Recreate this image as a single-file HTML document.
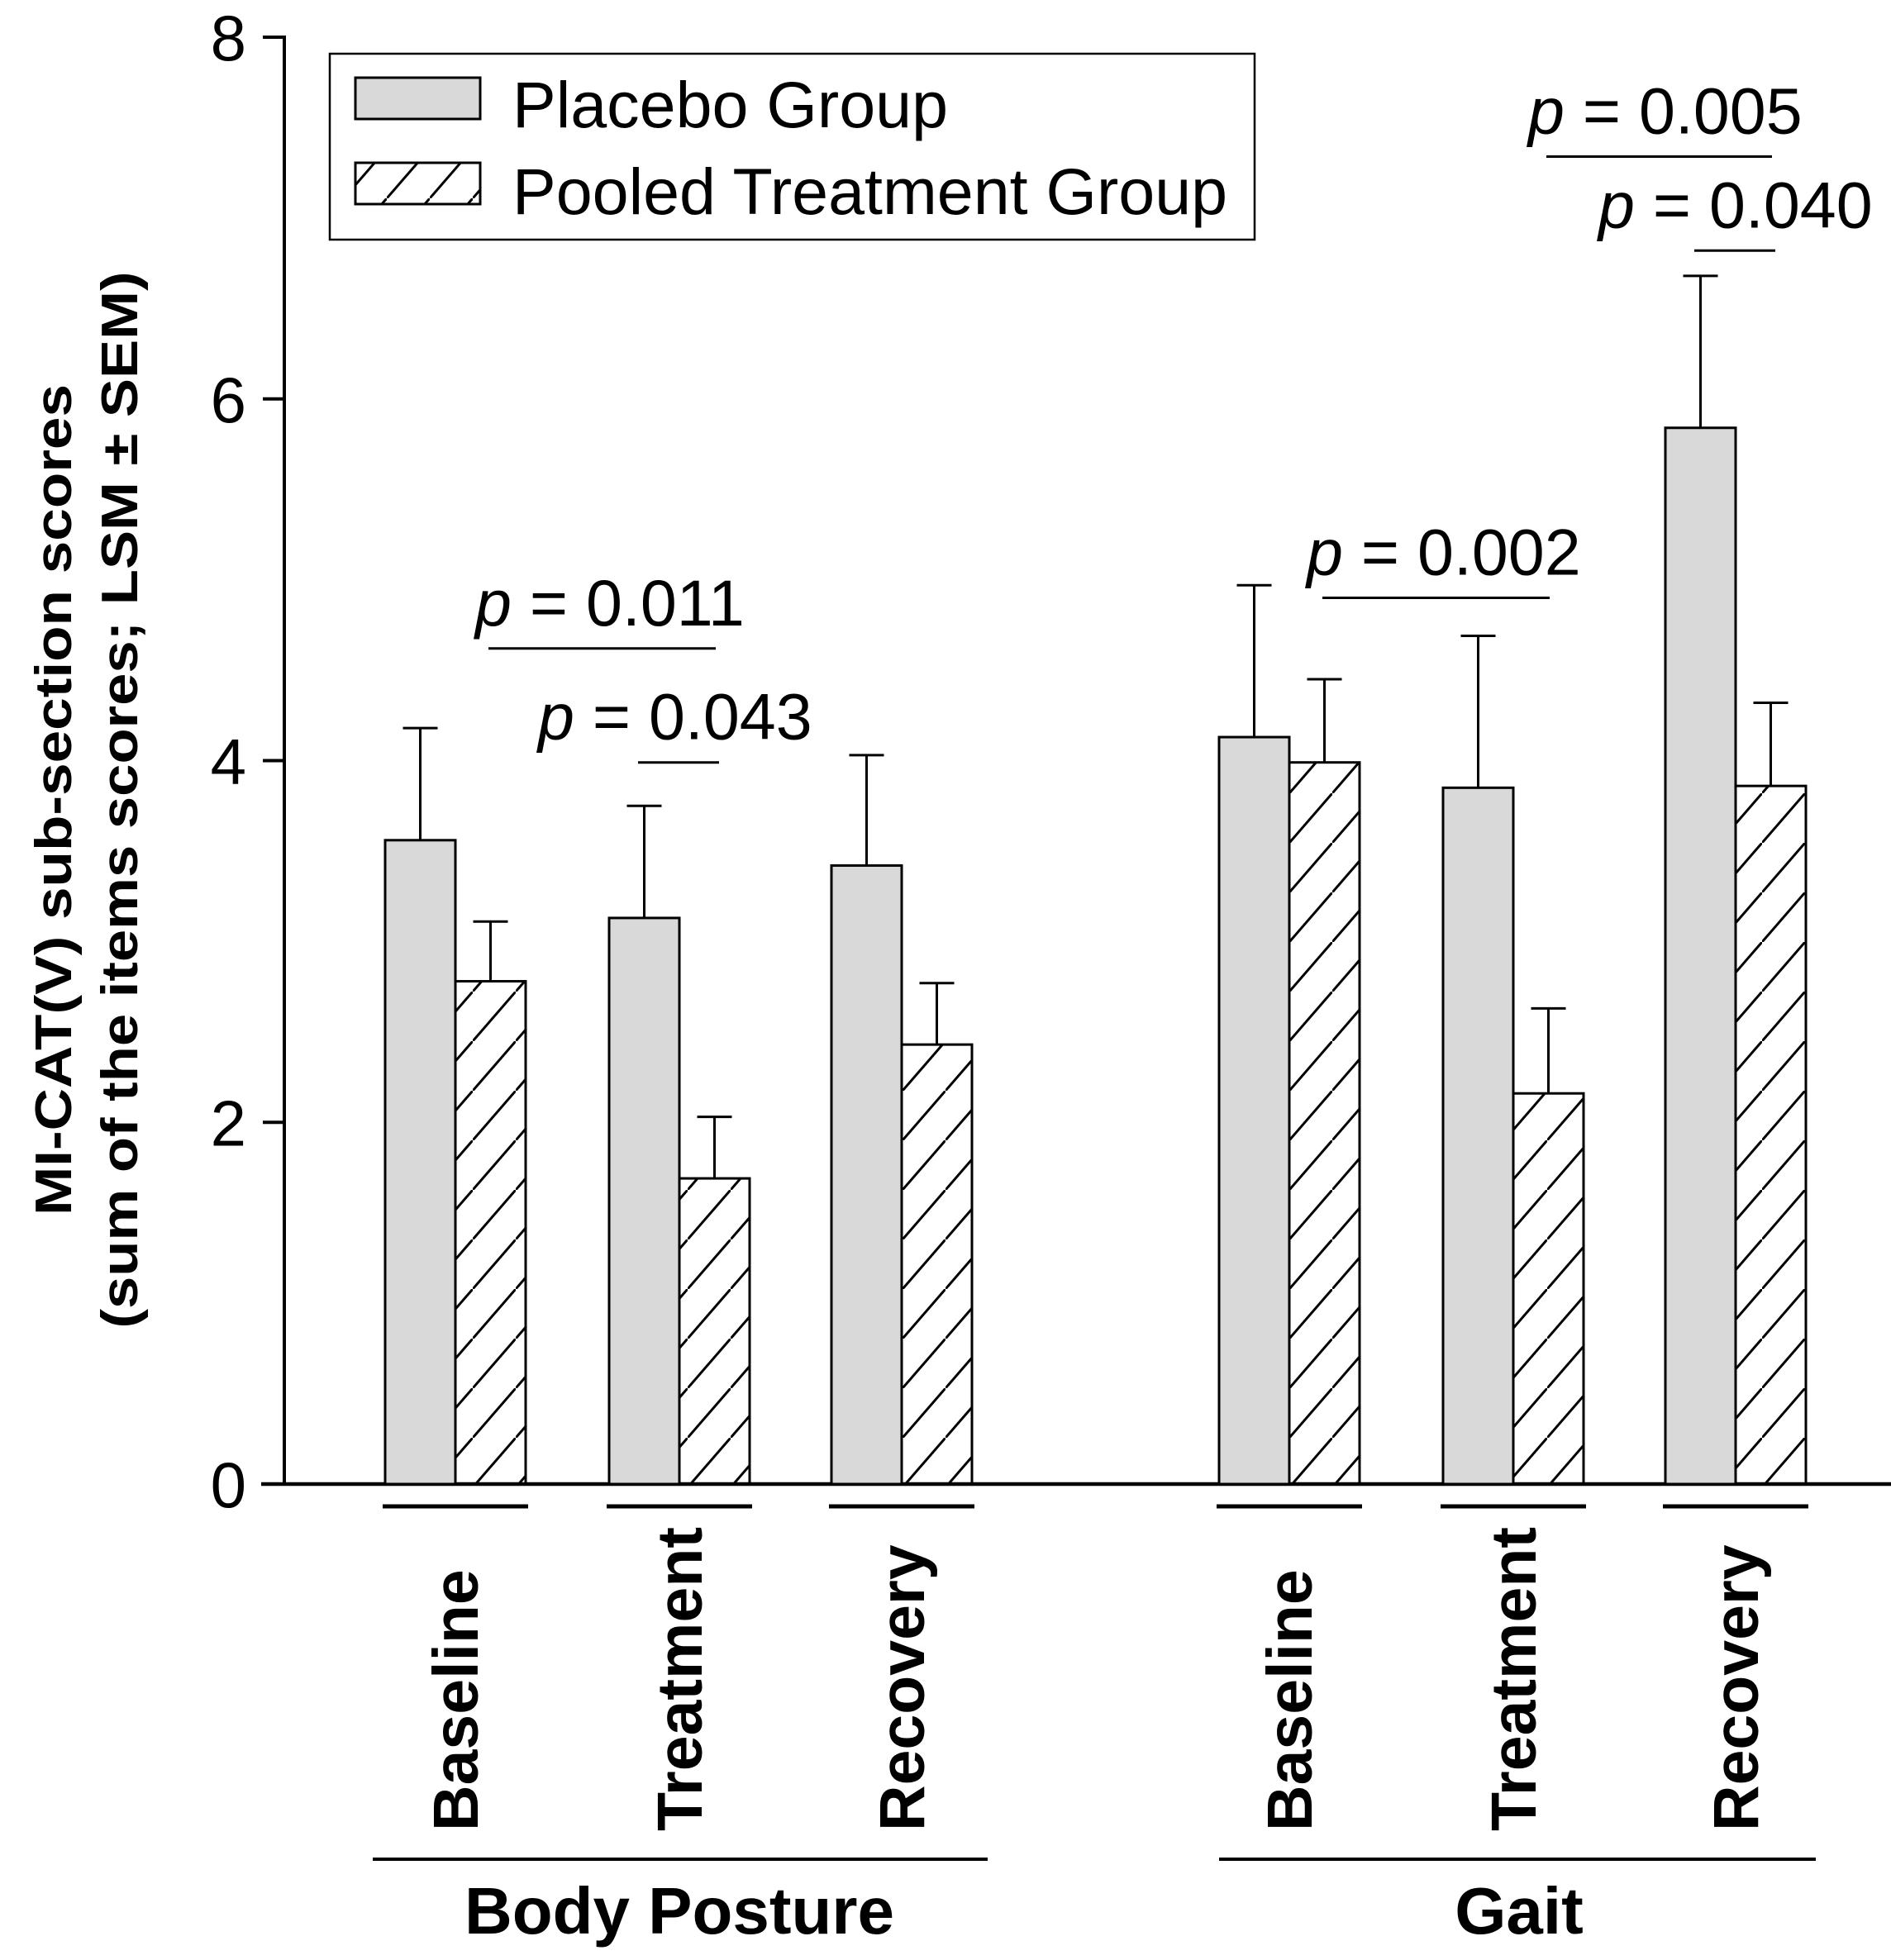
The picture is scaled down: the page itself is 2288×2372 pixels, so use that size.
<!DOCTYPE html>
<html><head><meta charset="utf-8"><style>html,body{margin:0;padding:0;background:#fff}svg{display:block}text{font-family:"Liberation Sans",Arial,sans-serif}</style></head>
<body>
<svg id="chart" width="2288" height="2372" viewBox="0 0 2288 2372" xmlns="http://www.w3.org/2000/svg">
<defs>
<pattern id="hatch" patternUnits="userSpaceOnUse" width="52" height="60">
<line x1="-5" y1="65.8" x2="57" y2="-5.8" stroke="#000" stroke-width="3"/>
</pattern>
</defs>
<g id="plot"></g>
</svg>
<script>
const categories = ["Baseline","Treatment","Recovery","Baseline","Treatment","Recovery"];
const groups = ["Body Posture","Gait"];
const placebo = [3.56,3.13,3.42,4.13,3.85,5.84];
const placeboErr = [0.62,0.62,0.61,0.84,0.84,0.84];
const pooled = [2.78,1.69,2.43,3.99,2.16,3.86];
const pooledErr = [0.33,0.34,0.34,0.46,0.47,0.46];
const yTicks = [0,2,4,6,8];
const pvals = [
 {label:"0.011", from:0, to:1, level:4.62, tx:575},
 {label:"0.043", from:1, to:1, level:3.99, tx:651},
 {label:"0.002", from:3, to:4, level:4.90, tx:1581},
 {label:"0.005", from:4, to:5, level:7.34, tx:1849},
 {label:"0.040", from:5, to:5, level:6.82, tx:1934}
];
const NS="http://www.w3.org/2000/svg";
const g=document.getElementById('plot');
function mk(tag,attrs,parent){const e=document.createElementNS(NS,tag);for(const k in attrs)e.setAttribute(k,attrs[k]);(parent||g).appendChild(e);return e;}
const y0=1796, y8=45;
function yScale(v){return y0-(y0-y8)*v/8;}
const centers=[551,822,1091,1560,1831,2100];
const bw=85;
function xCenter(i){return centers[i];}
let e;
e=mk('line',{x1:344,y1:y8-2,x2:344,y2:y0,stroke:'#000','stroke-width':4});


e=mk('line',{x1:316,y1:y0,x2:2288,y2:y0,stroke:'#000','stroke-width':4.5});


yTicks.forEach(t=>{
 const y=yScale(t);
 const l=mk('line',{x1:318,y1:y,x2:344,y2:y,stroke:'#000','stroke-width':4});
 
 
 const tx=mk('text',{x:298,y:y+28,'font-size':78,'text-anchor':'end'});
 tx.textContent=t;
 
 
});
const yt=mk('text',{transform:'translate(86,968) rotate(-90)','font-size':62,'font-weight':'bold','text-anchor':'middle',textLength:1006,lengthAdjust:'spacingAndGlyphs'});
yt.textContent='MI-CAT(V) sub-section scores';


const yt2=mk('text',{transform:'translate(166,968) rotate(-90)','font-size':62,'font-weight':'bold','text-anchor':'middle',textLength:1279,lengthAdjust:'spacingAndGlyphs'});
yt2.textContent='(sum of the items scores; LSM \u00b1 SEM)';


categories.forEach((c,i)=>{
 const cx=xCenter(i);
 [[placebo,placeboErr,'#d9d9d9',-1,'placebo'],[pooled,pooledErr,'url(#hatch)',0,'pooled']].forEach(s=>{
  const v=s[0][i], er=s[1][i];
  const x=cx+s[3]*bw;
  const yt=yScale(v);
  const r=mk('rect',{x:x,y:yt,width:bw,height:y0-yt,fill:s[2],stroke:'#000','stroke-width':3});
  
  
  const mx=x+bw/2, ye=yScale(v+er);
  const el=mk('path',{d:`M${mx},${yt} V${ye} M${mx-21},${ye} H${mx+21}`,stroke:'#000','stroke-width':3,fill:'none'});
  
  
 });
 const ul=mk('line',{x1:cx-88,y1:1823,x2:cx+88,y2:1823,stroke:'#000','stroke-width':5});
 
 
 const t=mk('text',{transform:`translate(${cx+27},2216) rotate(-90)`,'font-size':77,'font-weight':'bold','text-anchor':'start'});
 t.textContent=c;
 
 
});
[[451,1195,822],[1475,2197,1838]].forEach((gp,k)=>{
 const l=mk('line',{x1:gp[0],y1:2250,x2:gp[1],y2:2250,stroke:'#000','stroke-width':4});
 
 
 const t=mk('text',{x:gp[2],y:2340,'font-size':80,'font-weight':'bold','text-anchor':'middle'});
 t.textContent=groups[k];
 
 
});
pvals.forEach(p=>{
 const x1=p.from===p.to?xCenter(p.from)-50:xCenter(p.from)+40;
 const x2=p.from===p.to?xCenter(p.to)+48:xCenter(p.to)+44;
 const y=yScale(p.level);
 const l=mk('line',{x1:x1,y1:y,x2:x2,y2:y,stroke:'#000','stroke-width':3});
 
 
 const t=mk('text',{x:p.tx,y:y-28,'font-size':79});
 t.innerHTML='<tspan font-style="italic">p</tspan> = '+p.label;
 
 
});
const lg=mk('g',{});


mk('rect',{x:399,y:65,width:1119,height:225,fill:'#fff',stroke:'#000','stroke-width':2.5},lg);
const s1=mk('rect',{x:430,y:94,width:151,height:50,fill:'#d9d9d9',stroke:'#000','stroke-width':3},lg);


const s2=mk('rect',{x:430,y:197,width:151,height:50,fill:'url(#hatch)',stroke:'#000','stroke-width':3},lg);


const t1=mk('text',{x:620,y:154,'font-size':79},lg);
t1.textContent='Placebo Group';


const t2=mk('text',{x:620,y:259,'font-size':79},lg);
t2.textContent='Pooled Treatment Group';


</script>
</body></html>
